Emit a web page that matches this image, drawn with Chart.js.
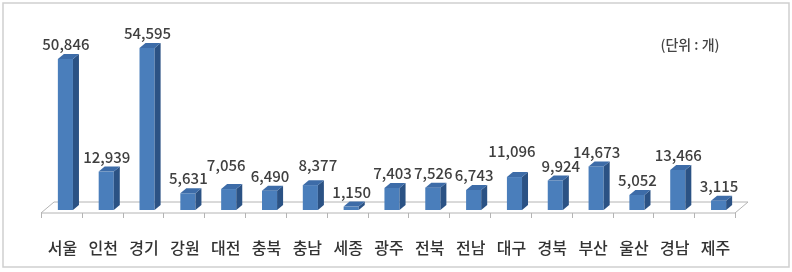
<!DOCTYPE html>
<html>
<head>
<meta charset="utf-8">
<script src="https://cdn.jsdelivr.net/npm/chart.js@4/dist/chart.umd.min.js"></script>
<style>
  html, body { margin: 0; padding: 0; background: #fff; }
  #wrap { position: absolute; left: 0; top: 0; width: 792px; height: 272px; }
</style>
</head>
<body>
<div id="wrap"><canvas id="c" width="792" height="272"></canvas></div>
<script>
const categories = ['서울','인천','경기','강원','대전','충북','충남','세종','광주','전북','전남','대구','경북','부산','울산','경남','제주'];
const values = [50846, 12939, 54595, 5631, 7056, 6490, 8377, 1150, 7403, 7526, 6743, 11096, 9924, 14673, 5052, 13466, 3115];
const unitLabel = '(단위 : 개)';
const yMax = 64000;

const FONT = '"Noto Sans CJK KR", "Noto Sans", sans-serif';
const DEPTH_X = 6, DEPTH_Y = -5;
// manual nudges of individual value labels, as in the original layout
const LABEL_NUDGE = { 4: [-3, -9], 6: [7, -5], 11: [-3, -11], 12: [5, 0] };

const decor = {
  id: 'decor',
  beforeDatasetsDraw(chart) {
    const ctx = chart.ctx;
    const a = chart.chartArea;
    const xs = chart.scales.x;
    ctx.save();
    // outer border
    ctx.strokeStyle = '#cfcfcf';
    ctx.lineWidth = 1.5;
    ctx.strokeRect(3, 3, 786, 264);
    // floor
    const fy = a.bottom + 3, by = a.bottom - 8;
    const fl = a.left - 4, fr = a.right - 4;
    const bl = a.left + 9, br = a.right + 9;
    ctx.strokeStyle = '#b4b4b4';
    ctx.lineWidth = 1;
    ctx.beginPath();
    ctx.moveTo(fl, fy); ctx.lineTo(fr, fy); ctx.lineTo(br, by); ctx.lineTo(bl, by); ctx.closePath();
    ctx.stroke();
    // ticks at category boundaries (front edge)
    const n = categories.length;
    const slot = (a.right - a.left) / n;
    ctx.beginPath();
    for (let i = 0; i <= n; i++) {
      const x = Math.round(fl + i * slot) + 0.5;
      ctx.moveTo(x, fy); ctx.lineTo(x, fy + 5);
    }
    ctx.stroke();
    // category labels
    ctx.fillStyle = '#333333';
    ctx.font = '500 16px ' + FONT;
    ctx.textAlign = 'center';
    ctx.textBaseline = 'middle';
    categories.forEach((c, i) => {
      ctx.fillText(c, xs.getPixelForValue(i) - 3, 248);
    });
    // unit label
    ctx.font = '500 14px ' + FONT;
    ctx.fillStyle = '#444';
    ctx.fillText(unitLabel, 690, 45);
    ctx.restore();
  },
  afterDatasetsDraw(chart) {
    const ctx = chart.ctx;
    const meta = chart.getDatasetMeta(0);
    ctx.save();
    meta.data.forEach((bar, i) => {
      const p = bar.getProps(['x', 'y', 'base', 'width'], true);
      const l = p.x - p.width / 2, r = p.x + p.width / 2;
      const t = p.y, b = p.base;
      // side face
      ctx.fillStyle = '#2b5284';
      ctx.beginPath();
      ctx.moveTo(r, t); ctx.lineTo(r + DEPTH_X, t + DEPTH_Y);
      ctx.lineTo(r + DEPTH_X, b + DEPTH_Y); ctx.lineTo(r, b); ctx.closePath();
      ctx.fill();
      // top face
      ctx.fillStyle = '#3d6ca8';
      ctx.beginPath();
      ctx.moveTo(l, t); ctx.lineTo(r, t);
      ctx.lineTo(r + DEPTH_X, t + DEPTH_Y); ctx.lineTo(l + DEPTH_X, t + DEPTH_Y); ctx.closePath();
      ctx.fill();
      // value label
      const nd = LABEL_NUDGE[i] || [0, 0];
      ctx.fillStyle = '#3f3f3f';
      ctx.font = '500 15px ' + FONT;
      ctx.textAlign = 'center';
      ctx.textBaseline = 'middle';
      ctx.fillText(values[i].toLocaleString('en-US'), p.x + 0.5 + nd[0], t - 14.5 + nd[1]);
    });
    ctx.restore();
  }
};

new Chart(document.getElementById('c'), {
  type: 'bar',
  data: {
    labels: categories,
    datasets: [{
      data: values,
      backgroundColor: '#4a7ebb',
      borderWidth: 0,
      barPercentage: 0.37,
      categoryPercentage: 1.0
    }]
  },
  options: {
    responsive: false,
    animation: false,
    layout: { padding: { left: 45, right: 53, top: 20, bottom: 62 } },
    plugins: { legend: { display: false }, tooltip: { enabled: false } },
    scales: {
      x: { display: false, offset: true },
      y: { display: false, min: 0, max: yMax }
    }
  },
  plugins: [decor]
});
</script>
</body>
</html>
